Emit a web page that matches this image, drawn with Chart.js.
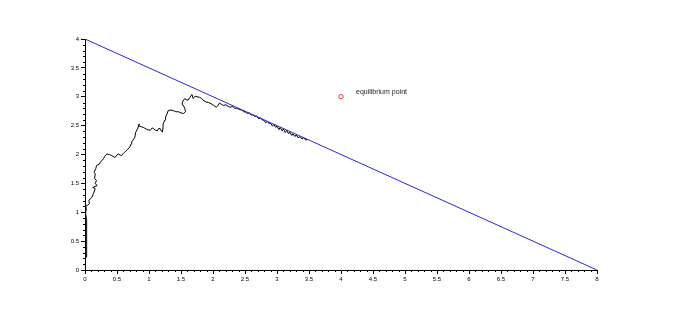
<!DOCTYPE html>
<html>
<head>
<meta charset="utf-8">
<script src="https://cdn.jsdelivr.net/npm/chart.js@4"></script>
<style>
  html, body { margin: 0; padding: 0; background: #fff; }
  #wrap { width: 683px; height: 309px; }
</style>
</head>
<body>
<div id="wrap"><canvas id="myChart"></canvas></div>
<script>
// simulated path
const pathX = [0.02, 0.02, 0.03, 0.03, 0.025, 0.03, 0.02, 0.01, 0.02, 0.01, 0.04, 0.07, 0.06, 0.08, 0.11,
  0.13, 0.16, 0.12, 0.19, 0.16, 0.18, 0.15, 0.16, 0.14, 0.17, 0.18, 0.22, 0.24, 0.27, 0.29,
  0.31, 0.34, 0.38, 0.42, 0.45, 0.47, 0.50, 0.52, 0.55, 0.57, 0.60, 0.62, 0.66, 0.70, 0.72,
  0.73, 0.75, 0.78, 0.79, 0.82, 0.85, 0.83, 0.88, 0.91, 0.94, 0.98, 1.02, 1.05, 1.07, 1.10,
  1.13, 1.15, 1.17, 1.19, 1.21, 1.22, 1.22, 1.25, 1.26, 1.28, 1.30, 1.34, 1.38, 1.42, 1.46,
  1.50, 1.54, 1.57, 1.56, 1.53, 1.52, 1.56, 1.58, 1.61, 1.64, 1.67, 1.69, 1.72, 1.75, 1.79,
  1.82, 1.86, 1.89, 1.93, 1.97, 2.01, 2.05, 2.08, 2.10, 2.13, 2.16, 2.20, 2.24, 2.27, 2.31,
  2.34, 2.37, 2.41, 2.45, 2.48, 2.50, 2.54, 2.57, 2.60, 2.63, 2.66, 2.68, 2.71, 2.74, 2.77,
  2.80, 2.82, 2.85, 2.88, 2.90, 2.93, 2.95, 2.98, 3.00, 3.03, 3.05, 3.08, 3.10, 3.13, 3.15,
  3.18, 3.20, 3.23, 3.25, 3.28, 3.30, 3.33, 3.36, 3.39, 3.42, 3.45, 3.48];
const pathY = [0.22, 0.40, 0.51, 0.62, 0.68, 0.78, 0.86, 0.98, 1.06, 1.12, 1.12, 1.15, 1.20, 1.23, 1.26,
  1.32, 1.41, 1.43, 1.46, 1.50, 1.55, 1.58, 1.67, 1.69, 1.76, 1.81, 1.83, 1.87, 1.90, 1.93,
  1.97, 2.01, 2.00, 1.98, 1.96, 1.95, 1.99, 2.01, 1.99, 1.98, 2.02, 2.04, 2.08, 2.13, 2.18,
  2.22, 2.25, 2.30, 2.38, 2.44, 2.53, 2.50, 2.48, 2.47, 2.45, 2.43, 2.42, 2.46, 2.45, 2.42,
  2.41, 2.45, 2.45, 2.41, 2.39, 2.48, 2.53, 2.60, 2.65, 2.70, 2.76, 2.77, 2.76, 2.74, 2.74,
  2.72, 2.71, 2.74, 2.80, 2.86, 2.91, 2.97, 2.95, 2.94, 2.99, 3.04, 2.97, 3.01, 3.00, 2.99,
  2.97, 2.93, 2.91, 2.90, 2.88, 2.85, 2.82, 2.85, 2.89, 2.87, 2.85, 2.86, 2.83, 2.82, 2.83,
  2.80, 2.80, 2.78, 2.77, 2.74, 2.74, 2.71, 2.72, 2.68, 2.69, 2.65, 2.67, 2.62, 2.63, 2.60,
  2.59, 2.55, 2.57, 2.53, 2.54, 2.49, 2.52, 2.47, 2.49, 2.43, 2.47, 2.41, 2.44, 2.38, 2.42,
  2.36, 2.39, 2.33, 2.36, 2.31, 2.34, 2.29, 2.31, 2.27, 2.29, 2.25, 2.26];

// straight line x + 2y = 8
const lineX = [0, 8];
const lineY = [4, 0];

// equilibrium point
const eqX = [4];
const eqY = [3];
const eqLabel = "equilibrium point";

const toPts = (xs, ys) => xs.map((x, i) => ({ x: x, y: ys[i] }));

// minor ticks every 0.1 + the annotation text
const extras = {
  id: "extras",
  afterDraw(chart) {
    const c = chart.ctx;
    const xs = chart.scales.x, ys = chart.scales.y;
    c.save();
    c.strokeStyle = "#000";
    c.lineWidth = 1;
    c.beginPath();
    for (let i = 0; i <= 80; i++) {
      if (i % 5 === 0) continue;
      const px = Math.round(xs.getPixelForValue(i / 10)) + 0.5;
      c.moveTo(px, ys.bottom);
      c.lineTo(px, ys.bottom + 2);
    }
    for (let i = 0; i <= 40; i++) {
      if (i % 5 === 0) continue;
      const py = Math.round(ys.getPixelForValue(i / 10)) + 0.5;
      c.moveTo(xs.left, py);
      c.lineTo(xs.left - 2, py);
    }
    c.stroke();

    c.fillStyle = "#222";
    c.font = "7px 'Liberation Sans', Arial, sans-serif";
    c.textBaseline = "middle";
    c.fillText(eqLabel, xs.getPixelForValue(eqX[0]) + 15, ys.getPixelForValue(eqY[0]) - 5);
    c.restore();
  },
};

const tickFont = { family: "'Liberation Sans', Arial, sans-serif", size: 6 };
const fmt = (v) => String(Math.round(v * 10) / 10);

const chart = new Chart(document.getElementById("myChart"), {
  type: "scatter",
  data: {
    datasets: [
      {
        label: "path",
        data: toPts(pathX, pathY),
        showLine: true,
        borderColor: "#000",
        borderWidth: 1,
        pointRadius: 0,
        order: 2,
      },
      {
        label: "line",
        data: toPts(lineX, lineY),
        showLine: true,
        borderColor: "#2a2ad0",
        borderWidth: 1,
        pointRadius: 0,
        order: 1,
      },
      {
        label: eqLabel,
        data: toPts(eqX, eqY),
        pointRadius: 2.2,
        borderWidth: 1,
        borderColor: "#e23a3a",
        backgroundColor: "rgba(255,255,255,0)",
        order: 0,
      },
    ],
  },
  options: {
    responsive: true,
    maintainAspectRatio: false,
    animation: false,
    layout: { padding: { top: 39, right: 86, left: 0, bottom: 0 } },
    plugins: { legend: { display: false }, tooltip: { enabled: false } },
    scales: {
      x: {
        type: "linear",
        min: 0,
        max: 8,
        afterFit: (s) => { s.height = 39; },
        border: { display: true, color: "#000", width: 1 },
        grid: { display: true, drawOnChartArea: false, drawTicks: true, tickLength: 4, color: "#000" },
        ticks: { stepSize: 0.5, font: tickFont, color: "#000", padding: 2, maxRotation: 0, autoSkip: false, callback: fmt },
      },
      y: {
        type: "linear",
        min: 0,
        max: 4,
        afterFit: (s) => { s.width = 85; },
        border: { display: true, color: "#000", width: 1 },
        grid: { display: true, drawOnChartArea: false, drawTicks: true, tickLength: 4, color: "#000" },
        ticks: { stepSize: 0.5, font: tickFont, color: "#000", padding: 2, autoSkip: false, callback: fmt },
      },
    },
  },
  plugins: [extras],
});
</script>
</body>
</html>
